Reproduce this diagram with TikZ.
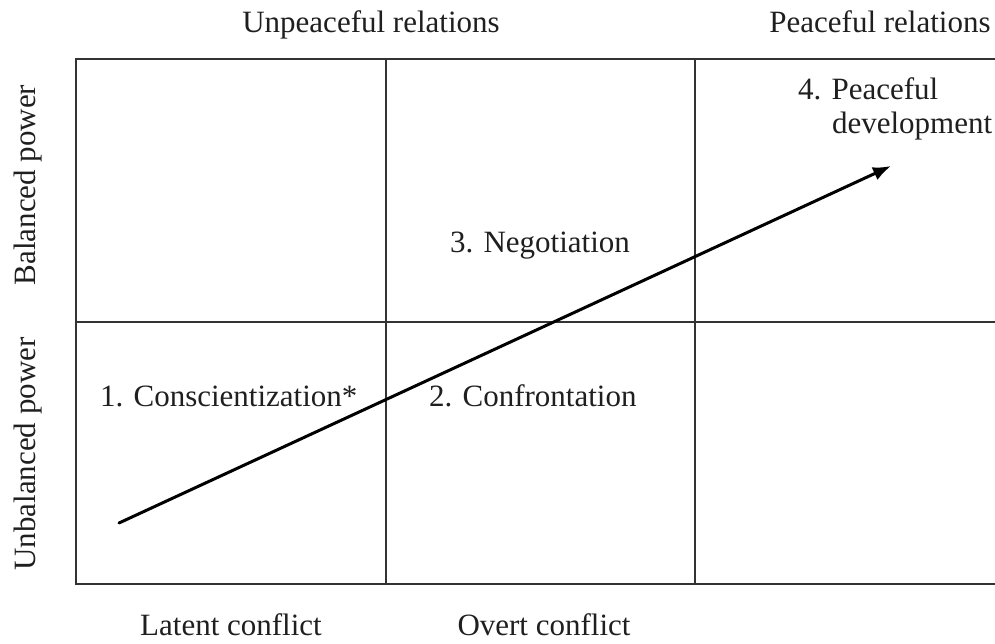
\documentclass[tikz,border=0pt]{standalone}
\usepackage{fontspec}
\setmainfont{Liberation Serif}
\usetikzlibrary{arrows.meta}
\tikzset{
  lbl/.style={inner sep=0pt,outer sep=0pt,text=black!88,font=\fontsize{15.5}{17}\selectfont},
  gridline/.style={draw=black!80,line width=1pt},
}

\begin{document}
\begin{tikzpicture}[x=0.5pt,y=0.5pt,yscale=-1,xscale=1]
\useasboundingbox (0,0) rectangle (995,643);

%Shape: Grid outline, open at the right
\draw [gridline] (995,59) -- (76,59) -- (76,584) -- (995,584) ;
%Straight Lines middle row
\draw [gridline] (76,322) -- (995,322) ;
%Straight Lines columns
\draw [gridline] (386,59) -- (386,584) ;
\draw [gridline] (695,59) -- (695,584) ;

%Column and row headers
\node [lbl,anchor=base] (unpeace) at (371,32) {Unpeaceful relations};
\node [lbl,anchor=base] (peace) at (880,32) {Peaceful relations};
\node [lbl,anchor=base] (latent) at (231,635) {Latent conflict};
\node [lbl,anchor=base] (overt) at (544,635) {Overt conflict};
\node [lbl,anchor=base,rotate=90] (balanced) at (35,185) {Balanced power};
\node [lbl,anchor=base,rotate=90] (unbalanced) at (35,454) {Unbalanced power};

%Stages
\node [lbl,anchor=base west] (stageA) at (100,406) {1. Conscientization*};
\node [lbl,anchor=base west] (stageB) at (429,406) {2. Confrontation};
\node [lbl,anchor=base west] (stageC) at (450,252) {3. Negotiation};
\node [lbl,anchor=base west] (stageD) at (798,99) {4. Peaceful};
\node [lbl,anchor=base west] (stageDb) at (832,133) {development};

%Straight Lines arrow
\coordinate (start) at (119,523);
\coordinate (finish) at (891,166);
\draw [line width=1.5pt,line cap=round,-{Latex[length=9pt,width=7pt]}] (start) -- (finish) ;

\end{tikzpicture}
\end{document}
